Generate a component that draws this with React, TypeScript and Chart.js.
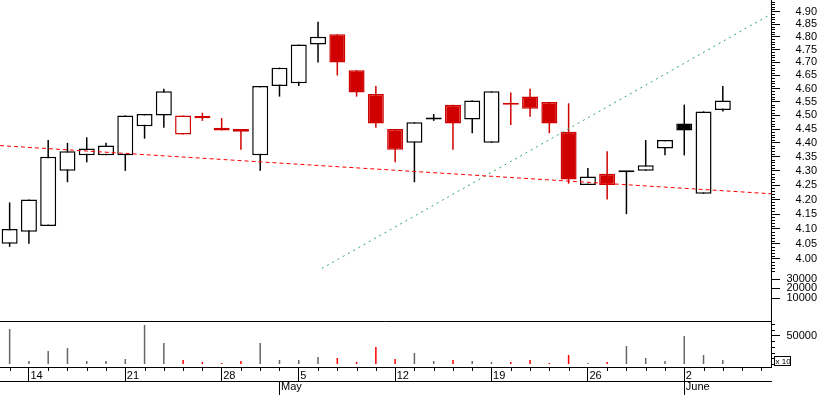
import React, { useEffect, useRef } from 'react';
import { Chart, registerables } from 'chart.js';

Chart.register(...registerables);

// Trading days (category axis)
const dates = [
  '2003-04-11',
  '2003-04-14', '2003-04-15', '2003-04-16', '2003-04-17', '2003-04-18',
  '2003-04-21', '2003-04-22', '2003-04-23', '2003-04-24', '2003-04-25',
  '2003-04-28', '2003-04-29', '2003-04-30', '2003-05-02',
  '2003-05-05', '2003-05-06', '2003-05-07', '2003-05-08', '2003-05-09',
  '2003-05-12', '2003-05-13', '2003-05-14', '2003-05-15', '2003-05-16',
  '2003-05-19', '2003-05-20', '2003-05-21', '2003-05-22', '2003-05-23',
  '2003-05-26', '2003-05-27', '2003-05-28', '2003-05-29', '2003-05-30',
  '2003-06-02', '2003-06-03', '2003-06-04', '2003-06-05', '2003-06-06',
];

const open = [
  4.05, 4.09, 4.11, 4.30, 4.355, 4.355, 4.355, 4.46, 4.50, 4.43,
  4.49, 4.445, 4.45, 4.355, 4.61, 4.62, 4.77, 4.81, 4.67, 4.58,
  4.45, 4.40, 4.485, 4.54, 4.485, 4.40, 4.54, 4.57, 4.55, 4.44,
  4.25, 4.29, 4.295, 4.30, 4.38, 4.47, 4.22, 4.52,
];
const high = [
  4.19, 4.20, 4.41, 4.40, 4.42, 4.40, 4.50, 4.505, 4.60, 4.50,
  4.51, 4.49, 4.45, 4.61, 4.68, 4.77, 4.86, 4.81, 4.67, 4.61,
  4.45, 4.475, 4.505, 4.54, 4.555, 4.59, 4.585, 4.60, 4.55, 4.545,
  4.31, 4.37, 4.30, 4.41, 4.41, 4.54, 4.515, 4.61,
];
const low = [
  4.04, 4.05, 4.11, 4.26, 4.33, 4.355, 4.30, 4.415, 4.455, 4.43,
  4.48, 4.445, 4.375, 4.30, 4.57, 4.61, 4.70, 4.65, 4.57, 4.455,
  4.33, 4.26, 4.48, 4.375, 4.435, 4.40, 4.465, 4.495, 4.435, 4.255,
  4.25, 4.20, 4.15, 4.30, 4.355, 4.355, 4.22, 4.515,
];
const close = [
  4.10, 4.20, 4.35, 4.37, 4.38, 4.39, 4.50, 4.505, 4.59, 4.50,
  4.498, 4.455, 4.44, 4.61, 4.68, 4.77, 4.80, 4.70, 4.585, 4.47,
  4.375, 4.475, 4.485, 4.47, 4.555, 4.59, 4.54, 4.525, 4.47, 4.27,
  4.28, 4.25, 4.295, 4.32, 4.41, 4.445, 4.515, 4.555,
];
const volume = [
  61400, 5300, 22800, 28000, 5300, 5300, 8800, 68400, 36800, 7000,
  3500, 1800, 5300, 36800, 7000, 7000, 12300, 10500, 3500, 29800,
  8800, 19300, 5300, 7000, 5300, 3500, 3500, 7000, 1800, 15800,
  1800, 3500, 31600, 10500, 5300, 49100, 15800, 7000,
];

// Axis ticks
const priceTickValues = [4.0, 4.05, 4.1, 4.15, 4.2, 4.25, 4.3, 4.35, 4.4, 4.45, 4.5, 4.55, 4.6, 4.65, 4.7, 4.75, 4.8, 4.85, 4.9];
const priceTickLabels = ['4.00', '4.05', '4.10', '4.15', '4.20', '4.25', '4.30', '4.35', '4.40', '4.45', '4.50', '4.55', '4.60', '4.65', '4.70', '4.75', '4.80', '4.85', '4.90'];
const lowerTickValues = [3.874, 3.905, 3.934];
const lowerTickLabels = ['10000', '20000', '30000'];
const volumeTickValues = [50000];
const volumeTickLabels = ['50000'];
const volumeNote = 'x 10';
const monthNames = ['Jan', 'Feb', 'Mar', 'Apr', 'May', 'June', 'July', 'Aug', 'Sep', 'Oct', 'Nov', 'Dec'];

// Trend lines (x in trading-day index units)
const supportLine = [{ x: -0.5, y: 4.39 }, { x: 39.5, y: 4.22 }];
const trendLine = [{ x: 16.2, y: 3.969 }, { x: 39.5, y: 4.89 }];

const PRICE_MIN = 3.8016;
const PRICE_MAX = 4.947;
const VOL_MIN = -5262;
const VOL_MAX = 75422;

const RED = '#d00000';
const BLACK = '#000000';
const FONT = { family: '"Liberation Sans", Arial, sans-serif', size: 11 };

export default function App() {
  const ref = useRef<HTMLCanvasElement>(null);

  useEffect(() => {
    document.body.style.margin = '0';
    const canvas = ref.current;
    if (!canvas) return;

    const idx = close.map((_, i) => i);
    const isDown = idx.map((i) => i > 0 && close[i] < close[i - 1]);
    const strokeCol = idx.map((i) => (isDown[i] ? RED : BLACK));
    const fillCol = idx.map((i) => (close[i] >= open[i] ? '#ffffff' : strokeCol[i]));
    const volCol = idx.map((i) => (isDown[i] ? '#ff0000' : '#666666'));

    const parsed = dates.map((d) => new Date(d + 'T00:00:00Z'));
    const weekIdx = dates.map((_, i) => i).filter((i) => i > 0 && parsed[i].getUTCDay() < parsed[i - 1].getUTCDay());
    const weekLabels = weekIdx.map((i) => String(parsed[i].getUTCDate()));
    const monthIdx = dates.map((_, i) => i).filter((i) => i > 0 && parsed[i].getUTCMonth() !== parsed[i - 1].getUTCMonth());
    const monthLabels = monthIdx.map((i) => monthNames[parsed[i].getUTCMonth()]);

    const yTickVals = [...lowerTickValues, ...priceTickValues];
    const yTickLabels = [...lowerTickLabels, ...priceTickLabels];
    const volTickVals = [...volumeTickValues, VOL_MAX];
    const volTickLabels = [...volumeTickLabels, ''];

    const priceMinor: number[] = [];
    for (let h = 396; h <= 494; h++) if (h % 5 !== 0) priceMinor.push(h / 100);
    const volMinor = [0, 10000, 20000, 30000, 40000, 60000, 70000];
    const dayMinor = dates.map((_, i) => i).filter((i) => !weekIdx.includes(i));

    const minorPlugin = {
      id: 'minorTicks',
      afterDraw(chart: any) {
        const ctx = chart.ctx;
        const ys = chart.scales.y;
        const vs = chart.scales.yVol;
        const xs = chart.scales.x;
        ctx.save();
        ctx.strokeStyle = '#000';
        ctx.lineWidth = 1;
        ctx.beginPath();
        for (const v of priceMinor) {
          const p = Math.round(ys.getPixelForValue(v)) + 0.5;
          ctx.moveTo(ys.left, p);
          ctx.lineTo(ys.left + 4, p);
        }
        for (const v of volMinor) {
          const p = Math.round(vs.getPixelForValue(v)) + 0.5;
          ctx.moveTo(vs.left, p);
          ctx.lineTo(vs.left + 4, p);
        }
        for (const v of dayMinor) {
          const p = Math.round(xs.getPixelForValue(v)) + 0.5;
          ctx.moveTo(p, xs.top);
          ctx.lineTo(p, xs.top + 4);
        }
        ctx.stroke();
        // multiplier note box
        const bx = Math.round(vs.left) + 3.5;
        const by = Math.round(vs.bottom) - 10.5;
        ctx.strokeRect(bx, by, 16, 9);
        ctx.fillStyle = '#000';
        ctx.font = '8px "Liberation Sans", Arial, sans-serif';
        ctx.textBaseline = 'middle';
        ctx.textAlign = 'left';
        ctx.fillText(volumeNote, bx + 1, by + 5);
        ctx.restore();
      },
    };

    const chart = new Chart(canvas, {
      type: 'bar',
      data: {
        datasets: [
          {
            type: 'line',
            data: supportLine,
            borderColor: '#ff0000',
            borderWidth: 1,
            borderDash: [4, 3],
            pointRadius: 0,
            fill: false,
            yAxisID: 'y',
            xAxisID: 'x',
            order: 0,
          } as any,
          {
            type: 'line',
            data: trendLine,
            borderColor: '#2fa468',
            borderWidth: 1,
            borderDash: [2, 4],
            pointRadius: 0,
            fill: false,
            yAxisID: 'y',
            xAxisID: 'x',
            order: 0,
          } as any,
          {
            type: 'bar',
            data: idx.map((i) => ({ x: i, y: [open[i], close[i]] })),
            backgroundColor: fillCol,
            borderColor: strokeCol,
            borderWidth: 1.5,
            borderSkipped: false,
            barThickness: 16,
            minBarLength: 2,
            grouped: false,
            inflateAmount: 0,
            yAxisID: 'y',
            xAxisID: 'x',
            order: 2,
          } as any,
          {
            type: 'bar',
            data: idx.map((i) => ({ x: i, y: [low[i], high[i]] })),
            backgroundColor: strokeCol,
            borderWidth: 0,
            barThickness: 1.5,
            grouped: false,
            inflateAmount: 0,
            yAxisID: 'y',
            xAxisID: 'x',
            order: 3,
          } as any,
          {
            type: 'bar',
            data: idx.map((i) => ({ x: i, y: volume[i] })),
            backgroundColor: volCol,
            borderWidth: 0,
            barThickness: 1.5,
            grouped: false,
            inflateAmount: 0,
            yAxisID: 'yVol',
            xAxisID: 'x',
            order: 3,
          } as any,
        ],
      },
      options: {
        responsive: false,
        animation: false,
        devicePixelRatio: 1,
        layout: { padding: 0 },
        events: [],
        plugins: { legend: { display: false }, tooltip: { enabled: false } },
        scales: {
          x: {
            type: 'linear',
            position: 'bottom',
            weight: 0,
            min: -0.5,
            max: 39.5,
            offset: false,
            grid: { drawOnChartArea: false, offset: false, tickLength: 14, tickColor: '#000', tickWidth: 1, color: '#000' },
            border: { display: true, color: '#000', width: 1 },
            ticks: {
              autoSkip: false,
              maxRotation: 0,
              minRotation: 0,
              align: 'start',
              labelOffset: 1.5,
              padding: -12,
              color: '#000',
              font: FONT,
              callback: (_v: any, i: number) => weekLabels[i],
            },
            afterBuildTicks: (s: any) => {
              s.ticks = weekIdx.map((v) => ({ value: v }));
            },
            afterFit: (s: any) => {
              s.height = 14;
              s.paddingLeft = 0;
              s.paddingRight = 0;
            },
          },
          x2: {
            type: 'linear',
            position: 'bottom',
            weight: 1,
            min: -0.5,
            max: 39.5,
            offset: false,
            grid: { drawOnChartArea: false, offset: false, tickLength: 14, tickColor: '#000', tickWidth: 1, color: '#000' },
            border: { display: true, color: '#000', width: 1 },
            ticks: {
              autoSkip: false,
              maxRotation: 0,
              minRotation: 0,
              align: 'start',
              labelOffset: 1.5,
              padding: -14.3,
              color: '#000',
              font: FONT,
              callback: (_v: any, i: number) => monthLabels[i],
            },
            afterBuildTicks: (s: any) => {
              s.ticks = monthIdx.map((v) => ({ value: v }));
            },
            afterFit: (s: any) => {
              s.height = 14;
              s.paddingLeft = 0;
              s.paddingRight = 0;
            },
          },
          y: {
            type: 'logarithmic',
            position: 'right',
            stack: 'right',
            stackWeight: 321,
            weight: 0,
            min: PRICE_MIN,
            max: PRICE_MAX,
            bounds: 'data',
            grid: { drawOnChartArea: false, tickLength: 9, tickColor: '#000', tickWidth: 1 },
            border: { display: true, color: '#000', width: 1 },
            ticks: {
              autoSkip: false,
              crossAlign: 'far',
              padding: 2,
              color: '#000',
              font: FONT,
              callback: (_v: any, i: number) => yTickLabels[i],
            },
            afterBuildTicks: (s: any) => {
              s.ticks = yTickVals.map((v) => ({ value: v }));
            },
            afterFit: (s: any) => {
              s.width = 46;
              s.paddingTop = 0;
              s.paddingBottom = 0;
            },
          } as any,
          yVol: {
            type: 'linear',
            position: 'right',
            stack: 'right',
            stackWeight: 46,
            weight: 1,
            min: VOL_MIN,
            max: VOL_MAX,
            grid: {
              drawOnChartArea: true,
              tickLength: 9,
              tickWidth: 1,
              color: (c: any) => (c.tick && c.tick.value === VOL_MAX ? '#000' : 'rgba(0,0,0,0)'),
              tickColor: (c: any) => (c.tick && c.tick.value === VOL_MAX ? 'rgba(0,0,0,0)' : '#000'),
            },
            border: { display: true, color: '#000', width: 1 },
            ticks: {
              autoSkip: false,
              crossAlign: 'far',
              padding: 2,
              color: '#000',
              font: FONT,
              callback: (_v: any, i: number) => volTickLabels[i],
            },
            afterBuildTicks: (s: any) => {
              s.ticks = volTickVals.map((v) => ({ value: v }));
            },
            afterFit: (s: any) => {
              s.width = 46;
              s.paddingTop = 0;
              s.paddingBottom = 0;
            },
          } as any,
        },
      } as any,
      plugins: [minorPlugin],
    });

    return () => chart.destroy();
  }, []);

  return <canvas ref={ref} width={817} height={395} style={{ display: 'block' }} />;
}
